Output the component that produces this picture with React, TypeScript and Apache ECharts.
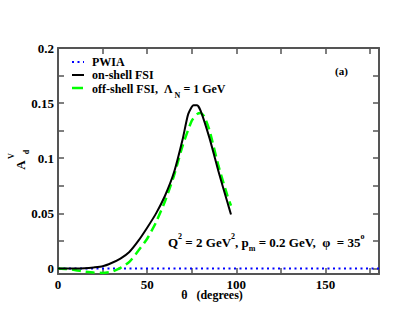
import React, { useEffect, useRef } from "react";
import * as echarts from "echarts";

const thetaOn = [0, 5, 10, 15, 20, 25, 30, 35, 40, 45, 50, 55, 60, 65, 70, 73, 76, 78, 80, 85, 90, 95, 97];
const onShell = [0, 0, 0, 0.0003, 0.001, 0.002, 0.005, 0.009, 0.015, 0.025, 0.037, 0.05, 0.066, 0.087, 0.118, 0.14, 0.148, 0.148, 0.143, 0.118, 0.088, 0.06, 0.049];
const thetaOff = [0, 5, 10, 15, 20, 25, 30, 35, 40, 45, 50, 55, 60, 65, 70, 75, 78, 80, 82, 85, 90, 95, 97];
const offShell = [0, -0.0005, -0.0015, -0.0028, -0.0037, -0.004, -0.003, 0.0005, 0.006, 0.016, 0.027, 0.042, 0.061, 0.084, 0.112, 0.134, 0.14, 0.141, 0.138, 0.125, 0.093, 0.066, 0.057];
const thetaPwia = [0, 180];
const pwia = [0, 0];

const xLabels = [0, 50, 100, 150];
const xTicks = [0, 25, 50, 75, 100, 125, 150, 175];
const yLabels = [0, 0.05, 0.1, 0.15, 0.2];
const yTicks = [0, 0.025, 0.05, 0.075, 0.1, 0.125, 0.15, 0.175, 0.2];

const FONT = "Liberation Serif";
const AX = "#555555";

export default function App() {
  const ref = useRef<HTMLDivElement>(null);
  useEffect(() => {
    const chart = echarts.init(ref.current!, undefined, { renderer: "svg" });
    const axLine = () => ({ show: true, onZero: false, lineStyle: { color: AX, width: 2 } });
    const tick = (vals: number[]) => ({
      show: true,
      inside: true,
      length: 6,
      customValues: vals,
      lineStyle: { color: AX, width: 1.5 },
    });
    const lbl = (vals: number[], color: string) => ({
      show: true,
      customValues: vals,
      color,
      fontFamily: FONT,
      fontWeight: "bold" as const,
      fontSize: 13,
      margin: 4,
      formatter: (v: number) => String(v),
    });
    const pair = (xs: number[], ys: number[]) => xs.map((x, i) => [x, ys[i]]);
    const n = { fontFamily: FONT, fontWeight: "bold", fontSize: 13, lineHeight: 20, verticalAlign: "middle", fill: "#000" };
    const nl = { ...n, fontSize: 12 };
    const sup = { fontFamily: FONT, fontWeight: "bold", fontSize: 8, lineHeight: 20, verticalAlign: "top", fill: "#000" };
    const sub = { fontFamily: FONT, fontWeight: "bold", fontSize: 8, lineHeight: 20, verticalAlign: "bottom", fill: "#000" };
    chart.setOption({
      animation: false,
      grid: { left: 58, right: 38, top: 48, bottom: 48 },
      xAxis: [
        {
          type: "value",
          min: 0,
          max: 180,
          position: "bottom",
          axisLine: axLine(),
          axisTick: tick(xTicks),
          axisLabel: lbl(xLabels, "#000"),
          splitLine: { show: false },
        },
        {
          type: "value",
          min: 0,
          max: 180,
          position: "top",
          axisLine: axLine(),
          axisTick: tick(xTicks),
          axisLabel: lbl(xTicks, "rgba(0,0,0,0)"),
          splitLine: { show: false },
        },
      ],
      yAxis: [
        {
          type: "value",
          min: -0.005,
          max: 0.2,
          position: "left",
          axisLine: axLine(),
          axisTick: tick(yTicks),
          axisLabel: lbl(yLabels, "#000"),
          splitLine: { show: false },
        },
        {
          type: "value",
          min: -0.005,
          max: 0.2,
          position: "right",
          axisLine: axLine(),
          axisTick: tick(yTicks),
          axisLabel: lbl(yTicks, "rgba(0,0,0,0)"),
          splitLine: { show: false },
        },
      ],
      series: [
        {
          type: "line",
          name: "PWIA",
          xAxisIndex: 1,
          yAxisIndex: 1,
          data: pair(thetaPwia, pwia),
          showSymbol: false,
          lineStyle: { color: "#0000ff", width: 2, type: [2, 3.5] },
          z: 1,
        },
        {
          type: "line",
          name: "on-shell FSI",
          data: pair(thetaOn, onShell),
          showSymbol: false,
          smooth: 0.2,
          lineStyle: { color: "#000000", width: 2 },
          z: 3,
        },
        {
          type: "line",
          name: "off-shell FSI",
          data: pair(thetaOff, offShell),
          showSymbol: false,
          smooth: 0.2,
          lineStyle: { color: "#00ff00", width: 2.5, type: [9, 5] },
          z: 2,
        },
      ],
      graphic: [
        { type: "line", shape: { x1: 72, y1: 62, x2: 84, y2: 62 }, style: { stroke: "#0000ff", lineWidth: 2, lineDash: [2, 3.5] } },
        { type: "line", shape: { x1: 72, y1: 75, x2: 84, y2: 75 }, style: { stroke: "#000", lineWidth: 2 } },
        { type: "line", shape: { x1: 72, y1: 88, x2: 83, y2: 88 }, style: { stroke: "#00ff00", lineWidth: 2.5 } },
        { type: "text", x: 92, y: 62, style: { text: "PWIA", font: `bold 12px "${FONT}"`, fill: "#000", textVerticalAlign: "middle" } },
        { type: "text", x: 92, y: 75, style: { text: "on-shell FSI", font: `bold 12px "${FONT}"`, fill: "#000", textVerticalAlign: "middle" } },
        {
          type: "text",
          x: 92,
          y: 89,
          style: {
            text: "{n|off-shell FSI,  Λ}{s| N}{n| = 1 GeV}",
            textVerticalAlign: "middle",
            rich: { n: nl, s: sub },
          },
        },
        { type: "text", x: 335, y: 71, style: { text: "(a)", font: `bold 11px "${FONT}"`, fill: "#000", textVerticalAlign: "middle" } },
        {
          type: "text",
          x: 168,
          y: 242,
          style: {
            text: "{n|Q}{p|2}{n| = 2 GeV}{p|2}{n|, p}{s|m}{n| = 0.2 GeV,  φ  = 35}{p|o}",
            textVerticalAlign: "middle",
            rich: { n, p: sup, s: sub },
          },
        },
        { type: "text", x: 212, y: 295, style: { text: "θ   (degrees)", font: `bold 12px "${FONT}"`, fill: "#000", textAlign: "center", textVerticalAlign: "middle" } },
        { type: "text", x: 20, y: 165, rotation: Math.PI / 2, style: { text: "A", font: `bold 13px "${FONT}"`, fill: "#000", textAlign: "center", textVerticalAlign: "middle" } },
        { type: "text", x: 11, y: 156, rotation: Math.PI / 2, style: { text: "V", font: `bold 8px "${FONT}"`, fill: "#000", textAlign: "center", textVerticalAlign: "middle" } },
        { type: "text", x: 26, y: 152, rotation: Math.PI / 2, style: { text: "d", font: `bold 8px "${FONT}"`, fill: "#000", textAlign: "center", textVerticalAlign: "middle" } },
      ],
    });
    return () => chart.dispose();
  }, []);
  return <div ref={ref} style={{ position: "fixed", left: 0, top: 0, width: 417, height: 322, background: "#fff" }} />;
}
